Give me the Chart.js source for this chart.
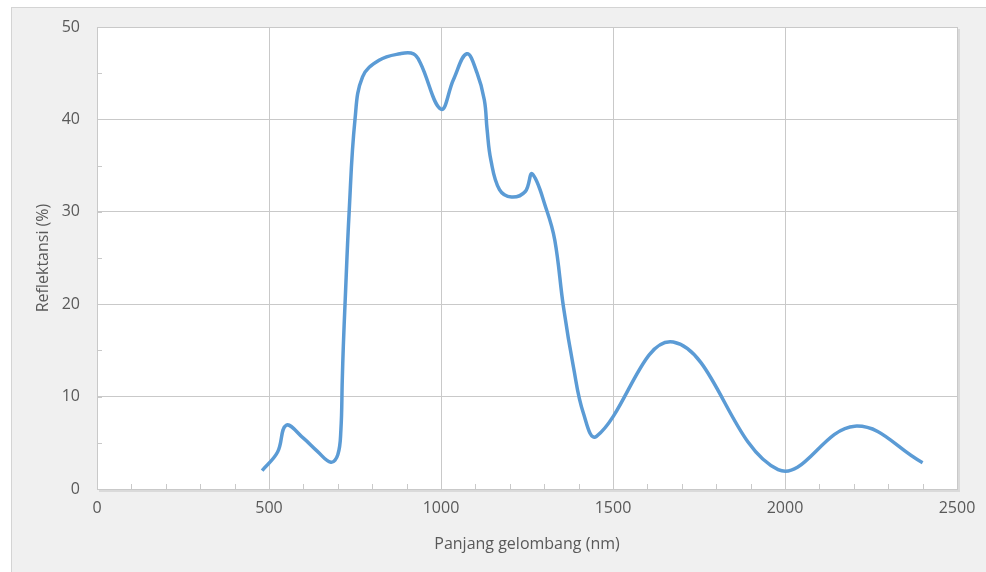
<!DOCTYPE html>
<html>
<head>
<meta charset="utf-8">
<script src="https://cdn.jsdelivr.net/npm/chart.js@4.4.0/dist/chart.umd.min.js"></script>
<style>
  body { margin: 0; background: #ffffff; overflow: hidden; }
  #frame { position: absolute; left: 11px; top: 7px; width: 1000px; height: 600px;
           background: #f0f0f0; border-left: 1px solid #d4d4d4; border-top: 1px solid #d4d4d4; }
  #myChart { position: absolute; left: 0; top: 0; }
</style>
</head>
<body>
<div id="frame"></div>
<canvas id="myChart" width="986" height="572"></canvas>
<script>
// wavelength (nm) and reflectance (%)
const wavelength = [480, 525, 550, 600, 640, 680, 700, 709, 713, 716, 721, 733, 750, 772, 820, 880, 920, 940,
  1000, 1036, 1075, 1105, 1126, 1134, 1145, 1170, 1205, 1245, 1265, 1307, 1331, 1356, 1385, 1414, 1452,
  1675, 1980, 2203, 2400];
const reflectance = [2, 4, 6.9, 5.5, 4.1, 2.9, 3.7, 6.4, 11.8, 15.4, 20, 30, 40, 44.6, 46.4, 47.1, 47.1, 46.1,
  41.1, 44.3, 47.1, 45.0, 42.1, 38.9, 35.6, 32.4, 31.6, 32.2, 34.1, 30.2, 26.9, 19.7, 13.2, 8.2, 5.7,
  15.9, 2.1, 6.8, 2.85];

const xTitle = 'Panjang gelombang (nm)';
const yTitle = 'Reflektansi (%)';
const xMinorStep = 100;
const yMinorStep = 5;

const points = wavelength.map((w, i) => ({ x: w, y: reflectance[i] }));

const textColor = '#595959';
const gridColor = '#c9c9c9';

// white plot area, minor ticks and frame like the spreadsheet chart
const plotArea = {
  id: 'plotArea',
  beforeDraw(chart) {
    const { ctx, chartArea: a } = chart;
    ctx.save();
    ctx.fillStyle = '#ffffff';
    ctx.fillRect(a.left, a.top, a.right - a.left, a.bottom - a.top);
    ctx.restore();
  },
  beforeDatasetsDraw(chart) {
    const { ctx, chartArea: a, scales } = chart;
    ctx.save();
    ctx.strokeStyle = gridColor;
    ctx.lineWidth = 1;
    ctx.beginPath();
    for (let v = xMinorStep; v < scales.x.max; v += xMinorStep) {
      const px = Math.round(scales.x.getPixelForValue(v)) + 0.5;
      ctx.moveTo(px, a.bottom);
      ctx.lineTo(px, a.bottom - 5);
    }
    for (let v = yMinorStep; v < scales.y.max; v += yMinorStep) {
      const py = Math.round(scales.y.getPixelForValue(v)) + 0.5;
      ctx.moveTo(a.left, py);
      ctx.lineTo(a.left + 5, py);
    }
    ctx.stroke();
    ctx.strokeRect(Math.round(a.left) + 0.5, Math.round(a.top) + 0.5,
      Math.round(a.right - a.left), Math.round(a.bottom - a.top));
    // faint shadow on the right and bottom edges
    ctx.strokeStyle = '#dadada';
    ctx.lineWidth = 2;
    ctx.beginPath();
    ctx.moveTo(Math.round(a.right) + 2, a.top + 2);
    ctx.lineTo(Math.round(a.right) + 2, a.bottom + 2);
    ctx.lineTo(a.left + 2, Math.round(a.bottom) + 2);
    ctx.stroke();
    ctx.restore();
  }
};

Chart.defaults.font.family = "'Open Sans', sans-serif";
Chart.defaults.font.size = 16;
Chart.defaults.color = textColor;

const chart = new Chart(document.getElementById('myChart'), {
  type: 'line',
  data: {
    datasets: [{
      data: points,
      borderColor: '#5b9bd5',
      borderWidth: 3.5,
      pointRadius: 0,
      fill: false,
      tension: 0.4,
    }],
  },
  options: {
    responsive: false,
    animation: false,
    layout: { padding: { left: 0, top: 27, right: 29, bottom: 0 } },
    plugins: { legend: { display: false }, tooltip: { enabled: false } },
    scales: {
      x: {
        type: 'linear',
        min: 0,
        max: 2500,
        ticks: { stepSize: 500, padding: 10, maxRotation: 0, color: textColor,
                 callback: (v) => String(v) },
        grid: { color: gridColor, drawTicks: false },
        border: { display: false },
        title: { display: true, text: xTitle, color: textColor, font: { size: 16 }, padding: { top: 0, bottom: 18 } },
        afterFit(scale) { scale.height = 83; },
      },
      y: {
        min: 0,
        max: 50,
        ticks: { stepSize: 10, padding: 17, color: textColor },
        grid: { color: gridColor, drawTicks: false },
        border: { display: false },
        title: { display: true, text: yTitle, color: textColor, font: { size: 16 }, padding: { top: 34, bottom: 0 } },
        afterFit(scale) { scale.width = 97; },
      },
    },
  },
  plugins: [plotArea],
});
</script>
</body>
</html>
